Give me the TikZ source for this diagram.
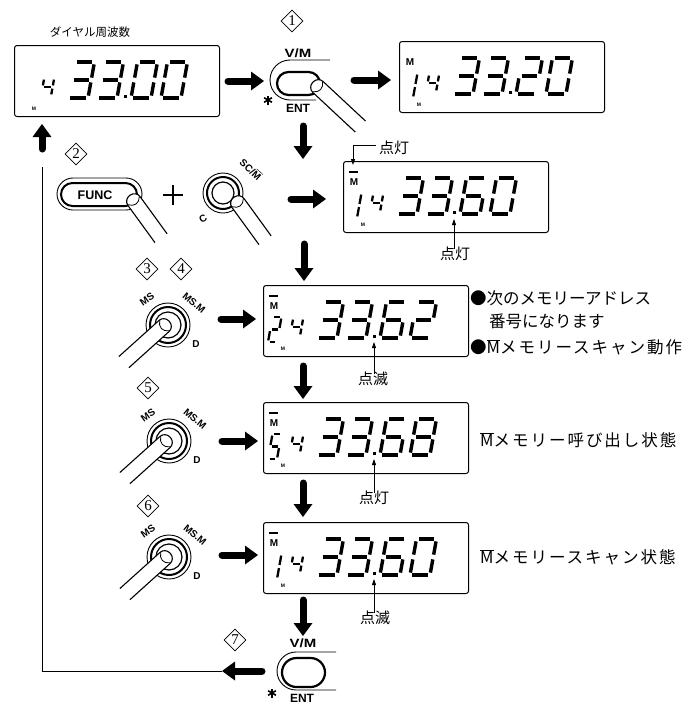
\documentclass[tikz,border=0pt]{standalone}
\usepackage{fontspec}
\usepackage{graphicx}
\setmainfont{Liberation Serif}
\setsansfont{Liberation Sans}
\newfontfamily\jp{Noto Sans CJK JP}
\newfontfamily\jpw[LetterSpace=12]{Noto Sans CJK JP}
\usetikzlibrary{arrows.meta,shapes.geometric}

\expandafter\def\csname Dg0\endcsname{a,b,c,d,e,f}
\expandafter\def\csname Dg1\endcsname{b,c}
\expandafter\def\csname Dg2\endcsname{a,b,g,e,d}
\expandafter\def\csname Dg3\endcsname{a,b,g,c,d}
\expandafter\def\csname Dg4\endcsname{f,g,b,c}
\expandafter\def\csname Dg5\endcsname{a,f,g,c,d}
\expandafter\def\csname Dg6\endcsname{a,f,g,e,d,c}
\expandafter\def\csname Dg8\endcsname{a,b,c,d,e,f,g}

\def\sga{\draw ({\G},{-\H}) -- ({\W-\G},{-\H});}
\def\sgb{\draw ({\W},{-\H+\G}) -- ({\W},{-\H/2-\G});}
\def\sgc{\draw ({\W},{-\H/2+\G}) -- ({\W},{-\G});}
\def\sgd{\draw ({\G},0) -- ({\W-\G},0);}
\def\sge{\draw (0,{-\G}) -- (0,{-\H/2+\G});}
\def\sgf{\draw (0,{-\H/2-\G}) -- (0,{-\H+\G});}
\def\sgg{\draw ({\G},{-\H/2}) -- ({\W-\G},{-\H/2});}

\newcommand\sevseg[6]{%
  \begin{scope}[shift={({#1},{#2})}, xslant=0.18, line width=#5pt]
    \def\W{#3}\def\H{#4}\pgfmathsetmacro\G{#5*0.7}%
    \edef\seglist{\csname Dg#6\endcsname}%
    \foreach \q in \seglist {\csname sg\q\endcsname}
  \end{scope}}

\newcommand\lcd[9]{%
  \node[disp, anchor=north west] (#1) at (#2,#3) {};
  \sevseg{#2+54}{#3+53}{20}{36}{3.4}{#6}%
  \sevseg{#2+83}{#3+53}{20}{36}{3.4}{#7}%
  \sevseg{#2+117}{#3+53}{20}{36}{3.4}{#8}%
  \sevseg{#2+147}{#3+53}{20}{36}{3.4}{#9}%
  \sevseg{#2+27}{#3+51}{10}{18}{2.3}{4}%
  \if x#4\else\sevseg{#2+5}{#3+57}{9}{25}{2.3}{#4}\fi
  \fill ({#2+109.5},{#3+50}) rectangle ({#2+112.5},{#3+53});
  \node[smallm] at ({#2+20},{#3+64}) {M};
  \ifnum#5>0 \node[mtop] at ({#2+11},{#3+21}) {M};\fi
  \ifnum#5>1 \draw[line width=1.6pt] ({#2+6},{#3+11}) -- ({#2+15},{#3+11});\fi
}

\newcommand\finger[4]{%
  \begin{scope}[shift={(#1,#2)}, rotate=#3]
    \filldraw[fill=white, line width=1.1pt, rounded corners=7pt] (-#4,-7.5) -- (7,-7.5) -- (7,7.5) -- (-#4,7.5);
    \draw[line width=0.8pt] (0.5,-7) .. controls (-5,-3) and (-5,3) .. (0.5,7);
  \end{scope}}

\newcommand\astar[2]{%
  \foreach \a in {90,30,-30}{\draw[line width=1.6pt] ({#1+4.5*cos(\a)},{#2+4.5*sin(\a)}) -- ({#1-4.5*cos(\a)},{#2-4.5*sin(\a)});}}

\newcommand\msbtn[2]{%
  \draw[line width=0.9pt] (#1,#2) circle[radius=22pt];
  \draw[line width=2pt] (#1,#2) circle[radius=18pt];
  \draw[line width=1.2pt] (#1,#2) circle[radius=13pt];
  \node[lbl, rotate=35] at ({#1-21},{#2-26}) {MS};
  \node[lbl, rotate=-40] at ({#1+26},{#2-22}) {MS.M};
  \node[lbl] at ({#1+28},{#2+19}) {D};
  \finger{#1-4}{#2+1}{42}{54}}

\begin{document}
\begin{tikzpicture}[x=1pt,y=-1pt,
  disp/.style={draw, line width=1pt, rounded corners=2.5pt, minimum width=205pt, minimum height=71pt, inner sep=0pt},
  smallm/.style={font=\sffamily\bfseries\fontsize{5}{5}\selectfont, inner sep=0pt},
  mtop/.style={font=\sffamily\bfseries\fontsize{10}{10}\selectfont, inner sep=0pt},
  bigarr/.style={line width=7pt, line cap=round, -{Triangle[length=13pt,width=19pt,line width=0pt]}},
  ptr/.style={line width=0.8pt, -{Triangle[length=6pt,width=4pt]}},
  loopl/.style={line width=1pt},
  dia/.style={diamond, draw, line width=0.7pt, minimum size=22pt, inner sep=0pt, font=\fontsize{15}{15}\selectfont},
  btn/.style={font=\sffamily\bfseries\fontsize{12}{12}\selectfont, inner sep=0pt},
  lbl/.style={font=\sffamily\bfseries\fontsize{10}{10}\selectfont, inner sep=0pt},
  jsm/.style={font=\jp\fontsize{11.5}{11.5}\selectfont, inner sep=0pt},
  jmid/.style={font=\jp\fontsize{15}{15}\selectfont, inner sep=0pt},
  jbig/.style={font=\jp\fontsize{16.5}{16.5}\selectfont, inner sep=0pt, anchor=west},
  jwide/.style={font=\jpw\fontsize{16.5}{16.5}\selectfont, inner sep=0pt, anchor=west}]
\useasboundingbox (0,0) rectangle (699,705);
\fill[white] (0,0) rectangle (699,705);

% displays
\lcd{d1}{14}{45}{x}{0}{3}{3}{0}{0}
\lcd{d2}{399}{41}{1}{1}{3}{3}{2}{0}
\lcd{d3}{343}{161}{1}{2}{3}{3}{6}{0}
\lcd{d4}{263}{285}{2}{2}{3}{3}{6}{2}
\lcd{d5}{263}{402}{5}{2}{3}{3}{6}{8}
\lcd{d6}{263}{522}{1}{2}{3}{3}{6}{0}

\node[jsm] (dial) at (90,32) {ダイヤル周波数};

% step markers
\node[dia] (s1) at (292,21) {1};
\node[dia] (s2) at (76,154) {2};
\node[dia] (s3) at (147,269) {3};
\node[dia] (s4) at (181,269) {4};
\node[dia] (s5) at (148,388) {5};
\node[dia] (s6) at (148,506) {6};
\node[dia] (s7) at (235,640) {7};

% V/M button (top)
\node[btn] (vm1) at (298,53) {\scalebox{1.25}[1]{V/M}};
\draw[line width=0.9pt, rounded corners=20pt] (330,60) -- (270,60) -- (270,100) -- (316,100);
\draw[line width=2.2pt, rounded corners=11.5pt] (277,72) rectangle (320,95);
\node[btn] (ent1) at (298,108) {ENT};
\astar{268}{100}
\finger{318}{87}{137}{58}

% FUNC button
\draw[line width=0.9pt, rounded corners=16pt] (57,178) rectangle (142,210);
\draw[line width=2pt, rounded corners=11.5pt] (61,183) rectangle (137,206);
\node[btn, font=\sffamily\bfseries\fontsize{12.5}{12.5}\selectfont] (func) at (95,195) {FUNC};
\finger{134}{201}{126}{46}

% plus
\draw[line width=2.6pt] (163,195) -- (183,195);
\draw[line width=2.6pt] (173,185) -- (173,205);

% SC/M button
\draw[line width=0.9pt] (223,193) circle[radius=20pt];
\draw[line width=2pt] (223,193) circle[radius=16pt];
\draw[line width=1.2pt] (223,193) circle[radius=11pt];
\node[lbl, rotate=-42] (scm) at (251,169) {SC/$\overline{\mbox{M}}$};
\node[lbl, rotate=30] (cl) at (203,219) {C};
\finger{238}{203}{126}{46}

% MS buttons
\msbtn{168}{325}
\msbtn{169}{441}
\msbtn{169}{557}

% V/M button (bottom)
\node[btn] (vm2) at (303,643) {\scalebox{1.25}[1]{V/M}};
\draw[line width=0.9pt, rounded corners=19pt] (336,652) -- (277,652) -- (277,690) -- (336,690);
\draw[line width=2.2pt, rounded corners=14.5pt] (282,658) rectangle (325,687);
\node[btn] (ent2) at (302,698) {ENT};
\astar{272}{693}

% big arrows
\coordinate (a1s) at (228,81);  \coordinate (a1e) at (264,81);
\coordinate (a2s) at (354,80);  \coordinate (a2e) at (391,80);
\coordinate (a3s) at (303,126); \coordinate (a3e) at (303,159);
\coordinate (aus) at (42,149);  \coordinate (aue) at (42,124);
\coordinate (afs) at (291,199); \coordinate (afe) at (326,199);
\coordinate (a4s) at (304,244); \coordinate (a4e) at (304,281);
\coordinate (ams1s) at (221,319); \coordinate (ams1e) at (256,319);
\coordinate (a5s) at (303,366); \coordinate (a5e) at (303,399);
\coordinate (ams2s) at (222,441); \coordinate (ams2e) at (258,441);
\coordinate (a6s) at (303,483); \coordinate (a6e) at (303,517);
\coordinate (ams3s) at (222,555); \coordinate (ams3e) at (258,555);
\coordinate (a7s) at (303,600); \coordinate (a7e) at (303,636);
\coordinate (a8s) at (262,671); \coordinate (a8e) at (222,671);
\foreach \p in {a1,a2,a3,au,af,a4,ams1,a5,ams2,a6,ams3,a7,a8}
  {\draw[bigarr] (\p s) -- (\p e);}

% return loop
\coordinate (lp2) at (42,671);
\coordinate (lp3) at (42,167);
\draw[loopl] (a8e) -- (lp2) -- (lp3);

% pointers and labels
\node[jmid] (t3a) at (394,148) {点灯};
\coordinate (p3s) at (376,145); \coordinate (p3e) at (353,165);
\draw[ptr] (p3s) -| (p3e);

\node[jmid] (t3b) at (455,254) {点灯};
\coordinate (q3) at (454,219);
\draw[ptr] ([yshift=-2pt]t3b.north -| q3) -- (q3);

\node[jmid] (t4) at (373,379) {点滅};
\coordinate (q4) at (374,342);
\draw[ptr] ([yshift=-2pt]t4.north -| q4) -- (q4);

\node[jmid] (t5) at (374,498) {点灯};
\coordinate (q5) at (374,459);
\draw[ptr] ([yshift=-2pt]t5.north -| q5) -- (q5);

\node[jmid] (t6) at (375,618) {点滅};
\coordinate (q6) at (374,579);
\draw[ptr] ([yshift=-2pt]t6.north -| q6) -- (q6);

% side texts
\node[jbig] (n1) at (470,298) {●次のメモリーアドレス};
\node[jbig] (n2) at (489,321) {番号になります};
\node[jwide] (n3) at (470,347) {●$\overline{\mbox{M}}$メモリースキャン動作};
\node[jwide] (n5) at (480,440) {$\overline{\mbox{M}}$メモリー呼び出し状態};
\node[jwide] (n6) at (480,557) {$\overline{\mbox{M}}$メモリースキャン状態};
\end{tikzpicture}
\end{document}
